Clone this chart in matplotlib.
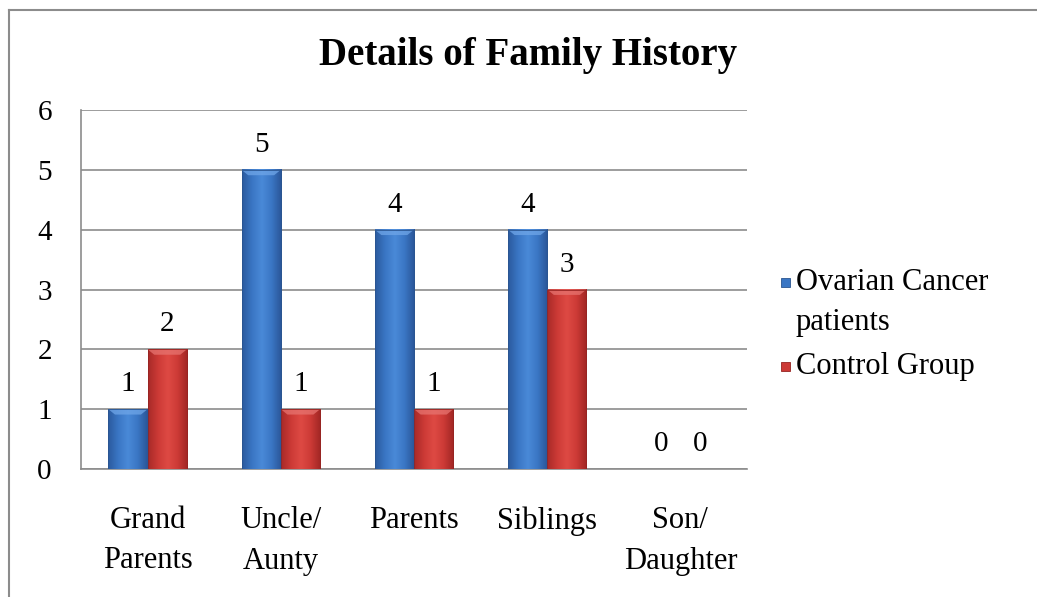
import numpy as np
import matplotlib
matplotlib.use("Agg")
import matplotlib.pyplot as plt
from matplotlib.patches import Rectangle
from matplotlib.lines import Line2D
from matplotlib.colors import LinearSegmentedColormap

categories = ["Grand\nParents", "Uncle/\nAunty", "Parents", "Siblings", "Son/\nDaughter"]
ovarian = [1, 5, 4, 4, 0]
control = [2, 1, 1, 3, 0]
series_names = ["Ovarian Cancer\npatients", "Control Group"]
yticks = [0, 1, 2, 3, 4, 5, 6]

plt.rcParams["font.family"] = ["Liberation Serif", "DejaVu Serif"]

W, H = 1037, 597
fig = plt.figure(figsize=(W / 100, H / 100), dpi=100)
fig.patch.set_facecolor("white")

ax = fig.add_axes([81 / W, 1 - 469 / H, (747 - 81) / W, (469 - 110) / H])
ax.set_xlim(-0.5, len(categories) - 0.5)
ax.set_ylim(0, 6)

blue_cmap = LinearSegmentedColormap.from_list(
    "blue", ["#2b5a9e", "#3a76c4", "#4a8ad8", "#3a76c4", "#2a5597"])
red_cmap = LinearSegmentedColormap.from_list(
    "red", ["#a82a28", "#cc3a36", "#de4a44", "#cc3a36", "#a02624"])
blue_top = "#6fa6e8"
red_top = "#e77470"

bw = 0.295
x = np.arange(len(categories))
grad = np.linspace(0, 1, 64).reshape(1, -1)
FS = 21


def draw_bar(xc, h, cmap, top_col, edge):
    if h <= 0:
        return
    x0, x1 = xc - bw / 2, xc + bw / 2
    ax.imshow(grad, cmap=cmap, aspect="auto", extent=(x0, x1, 0, h),
              zorder=3, interpolation="bicubic")
    # bevelled top edge
    bev = 0.09
    ax.fill([x0, x1, x1 - 0.05, x0 + 0.05], [h, h, h - bev, h - bev],
            color=top_col, alpha=0.75, zorder=4, lw=0)
    ax.add_patch(Rectangle((x0, 0), bw, h, fill=False, edgecolor=edge,
                           lw=0.6, zorder=5))


for i in range(len(categories)):
    draw_bar(x[i] - bw / 2, ovarian[i], blue_cmap, blue_top, "#2a5590")
    draw_bar(x[i] + bw / 2, control[i], red_cmap, red_top, "#962422")
    ax.text(x[i] - bw / 2, ovarian[i] + 0.2, str(ovarian[i]), ha="center",
            va="bottom", fontsize=FS, zorder=6)
    ax.text(x[i] + bw / 2, control[i] + 0.2, str(control[i]), ha="center",
            va="bottom", fontsize=FS, zorder=6)

ax.set_yticks(yticks)
ax.set_yticklabels([str(t) for t in yticks], fontsize=FS)
ax.set_xticks(x)
ax.set_xticklabels(categories, fontsize=22, linespacing=1.5)
ax.tick_params(axis="y", length=0, pad=21)
ax.tick_params(axis="x", length=0, pad=27)
ax.grid(axis="y", color="#8c8c8c", lw=1.2, zorder=1)
for s in ["top", "right"]:
    ax.spines[s].set_visible(False)
for s in ["left", "bottom"]:
    ax.spines[s].set_color("#8c8c8c")
    ax.spines[s].set_linewidth(1.2)

fig.text(528 / W, 1 - 56 / H, "Details of Family History", ha="center",
         va="center", fontsize=28, fontweight="bold")

# legend
for yc, name, fc, ec in [(283, series_names[0], "#3a76c4", "#2a5590"),
                         (367, series_names[1], "#cc3a36", "#962422")]:
    fig.patches.append(Rectangle((781 / W, 1 - (yc + 4) / H), 9 / W, 9 / H,
                                 transform=fig.transFigure, facecolor=fc,
                                 edgecolor=ec, lw=0.6))
    fig.text(796 / W, 1 - (yc - 15) / H, name, ha="left", va="top",
             fontsize=22, linespacing=1.5)

# chart frame
fig.add_artist(Line2D([9 / W, 9 / W], [0, 1 - 10 / H], color="#8c8c8c",
                      lw=1.5, transform=fig.transFigure))
fig.add_artist(Line2D([9 / W, 1], [1 - 10 / H, 1 - 10 / H], color="#8c8c8c",
                      lw=1.5, transform=fig.transFigure))

fig.savefig("out.png", dpi=100, facecolor="white")
